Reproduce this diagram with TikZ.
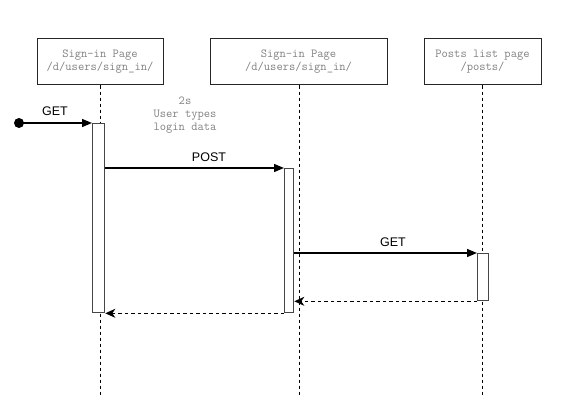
\documentclass[tikz,border=0pt]{standalone}
\usepackage{fontspec}
\setmainfont{Liberation Sans}
\usetikzlibrary{arrows.meta}
\definecolor{lbl}{RGB}{130,130,130}
\definecolor{actc}{RGB}{70,70,70}
\tikzset{
  pagebox/.style={draw=black!85, line width=1pt, fill=white, minimum height=46pt, inner sep=0pt,
    align=center, text=lbl, font=\ttfamily\fontsize{12.2}{13}\selectfont},
  lifeline/.style={line width=1pt, dash pattern=on 3pt off 3pt},
  actbox/.style={draw=actc, line width=1.3pt, fill=white, inner sep=0pt, anchor=north west},
  msg/.style={line width=1.3pt, -{Triangle[length=10pt,width=8pt]}},
  ret/.style={line width=1.2pt, dash pattern=on 3.5pt off 3pt, -{Stealth[length=10pt,width=9pt,inset=3pt]}},
  msglabel/.style={font=\fontsize{12.5}{15}\selectfont},
  note/.style={align=center, text=lbl, font=\ttfamily\fontsize{12.2}{13}\selectfont}
}
\begin{document}
\begin{tikzpicture}[x=1pt,y=-1pt]
\useasboundingbox (0,0) rectangle (573,420);
% boxes
\node[pagebox, minimum width=126pt] (p1) at (100,62) {Sign-in Page\\/d/users/sign\_in/};
\node[pagebox, minimum width=177pt] (p2) at (298.5,62) {Sign-in Page\\/d/users/sign\_in/};
\node[pagebox, minimum width=117pt] (p3) at (482.5,62) {Posts list page\\/posts/};
% lifeline ends
\coordinate (e1) at (100,395);
\coordinate (e2) at (299,395);
\coordinate (e3) at (482.5,395);
\draw[lifeline] (p1.south -| e1) -- (e1);
\draw[lifeline] (p2.south -| e2) -- (e2);
\draw[lifeline] (p3.south -| e3) -- (e3);
% activations
\node[actbox, minimum width=12pt, minimum height=189pt] (a1) at (92,123) {};
\node[actbox, minimum width=9pt, minimum height=144pt] (a2) at (284,168) {};
\node[actbox, minimum width=11pt, minimum height=47pt] (a3) at (477,253) {};
% start
\node[circle, fill=black, inner sep=0pt, minimum size=10pt] (s) at (19,123) {};
% messages
\draw[msg] (s.center) -- (a1.north west);
\draw[msg] (a1.east |- a2.north) -- (a2.north west);
\draw[msg] (a2.east |- a3.north) -- (a3.north west);
\draw[ret] (a3.south west) -- (a2.east |- a3.south);
\draw[ret] (a2.south west) -- (a1.south east);
% labels
\node[msglabel] (l1) at (55,111) {GET};
\node[msglabel] (l2) at (209,157) {POST};
\node[msglabel] (l3) at (393,242) {GET};
\node[note] (n1) at (185,115) {2s\\User types\\login data};
\end{tikzpicture}
\end{document}
